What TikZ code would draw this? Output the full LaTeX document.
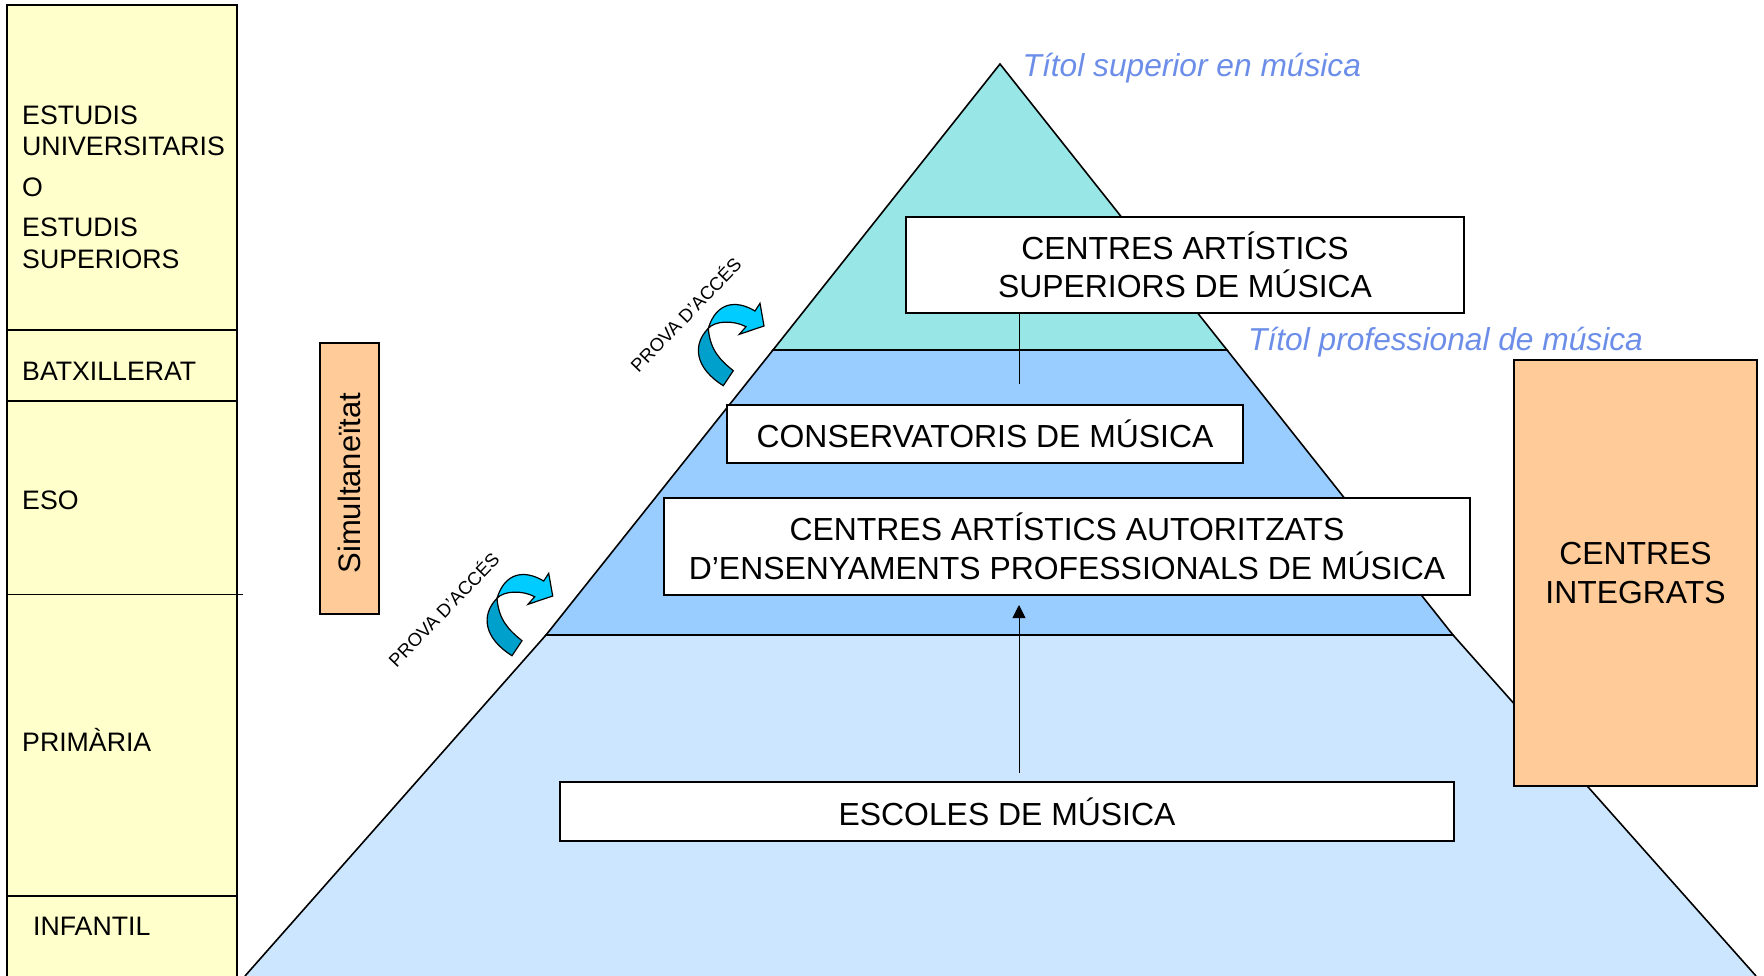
\documentclass[tikz,border=0pt]{standalone}
\usepackage{fontspec}
\setmainfont{Liberation Sans}
\usetikzlibrary{arrows.meta}
\definecolor{gradecol}{HTML}{FFFFCC}
\definecolor{topcol}{HTML}{99E6E6}
\definecolor{midcol}{HTML}{99CCFF}
\definecolor{basecol}{HTML}{CCE6FF}
\definecolor{sidecol}{HTML}{FFCC99}
\definecolor{titlecol}{HTML}{6C8EE8}
\definecolor{bendlight}{HTML}{00CCFF}
\definecolor{benddark}{HTML}{00A0CC}
\tikzset{
  x=1pt, y=-1pt,
  pyrlevel/.style={draw=black, line width=1.6pt},
  gradeline/.style={draw=black, line width=1.3pt},
  schoolbox/.style={draw=black, line width=1.5pt, fill=white, align=center, inner sep=0pt,
    font=\fontsize{31.9}{38.5}\selectfont},
  gradetext/.style={anchor=west, align=left, inner sep=0pt, font=\fontsize{26.7}{31.5}\selectfont},
  degreetext/.style={anchor=base west, inner sep=0pt, text=titlecol,
    font=\fontsize{31.7}{38}\itshape\selectfont},
  examtext/.style={rotate=46, inner sep=0pt, font=\fontsize{18.5}{20}\selectfont},
  bendarrow/.style={draw=black, line width=1.2pt, line join=miter},
}
\begin{document}
\begin{tikzpicture}
\useasboundingbox (0,0) rectangle (1764,976);

% Grades column
\draw[gradeline, fill=gradecol] (7,5) rectangle (237,985);
\draw[gradeline] (6,330) -- (237,330);
\draw[gradeline] (6,401) -- (237,401);
\draw[gradeline] (7,594.5) -- (243,594.5);
\draw[gradeline] (6,896) -- (237,896);
\node[gradetext] (estudis) at (22,131) {ESTUDIS\\UNIVERSITARIS};
\node[gradetext] (conj) at (22,187.5) {O};
\node[gradetext] (superiors) at (22,243.5) {ESTUDIS\\SUPERIORS};
\node[gradetext] (batx) at (22,371) {BATXILLERAT};
\node[gradetext] (eso) at (22,500) {ESO};
\node[gradetext] (primaria) at (22,739.5) {PRIMÀRIA};
\node[gradetext] (infantil) at (33,926) {INFANTIL};

% Simultaneity box
\node[schoolbox, fill=sidecol, rotate=90, minimum width=271pt, minimum height=59pt,
  font=\fontsize{31}{38}\selectfont] (simul) at (349.5,478.5) {Simultaneïtat\kern9pt};

% Pyramid
\draw[pyrlevel, fill=basecol] (245,976) -- (546,635) -- (1453,635) -- (1756,976);
\draw[pyrlevel, fill=midcol] (546,635) -- (773,350) -- (1227,350) -- (1453,635) -- cycle;
\draw[pyrlevel, fill=topcol] (773,350) -- (1000,64) -- (1227,350) -- cycle;

% Connectors
\coordinate (upperend) at (1019,384);
\coordinate (lowerstart) at (1019,773);
\coordinate (lowerend) at (1019,605);

% Schools
\node[schoolbox, minimum width=558pt, minimum height=96pt] (superiorbox) at (1185,265)
  {CENTRES ARTÍSTICS\\SUPERIORS DE MÚSICA};
\node[schoolbox, minimum width=516pt, minimum height=58pt] (conservbox) at (985,434)
  {CONSERVATORIS DE MÚSICA};
\node[schoolbox, minimum width=806pt, minimum height=97pt] (profbox) at (1067,546.5)
  {CENTRES ARTÍSTICS AUTORITZATS\\D’ENSENYAMENTS PROFESSIONALS DE MÚSICA};
\node[schoolbox, minimum width=894pt, minimum height=59pt] (escolesbox) at (1007,811.5)
  {ESCOLES DE MÚSICA};
\node[schoolbox, fill=sidecol, minimum width=243pt, minimum height=426pt] (integratsbox) at (1635.5,573)
  {CENTRES\\INTEGRATS};

\draw[line width=0.9pt] (superiorbox.south -| upperend) -- (upperend);
\draw[line width=0.9pt, -{Triangle[length=13pt,width=13pt]}] (lowerstart) -- (lowerend);

% Degree titles
\node[degreetext] (titolsup) at (1022.5,77) {Títol superior en música};
\node[degreetext] (titolprof) at (1248,350) {Títol professional de música};

% Entrance exams
\node[examtext] (examup) at (685,314) {PROVA D'ACCÉS};
\node[examtext] (examlow) at (443,609) {PROVA D'ACCÉS};
\foreach \dx/\dy in {0/0, -211.3/270} {
  \begin{scope}[shift={(\dx,\dy)}]
    \draw[bendarrow, fill=benddark] (723.3,385.7) .. controls (695,368) and (692,345) .. (708.3,328.3)
      .. controls (710,350) and (720,360) .. (733.3,370.7) -- cycle;
    \draw[bendarrow, fill=bendlight] (708.3,328.3) .. controls (716,303) and (735,299) .. (755,311)
      -- (760,303.3) -- (764,326) -- (739.3,334.3) -- (746,326.7)
      .. controls (733.3,320) and (715,320.7) .. (708.3,328.3) -- cycle;
  \end{scope}
}
\end{tikzpicture}
\end{document}
